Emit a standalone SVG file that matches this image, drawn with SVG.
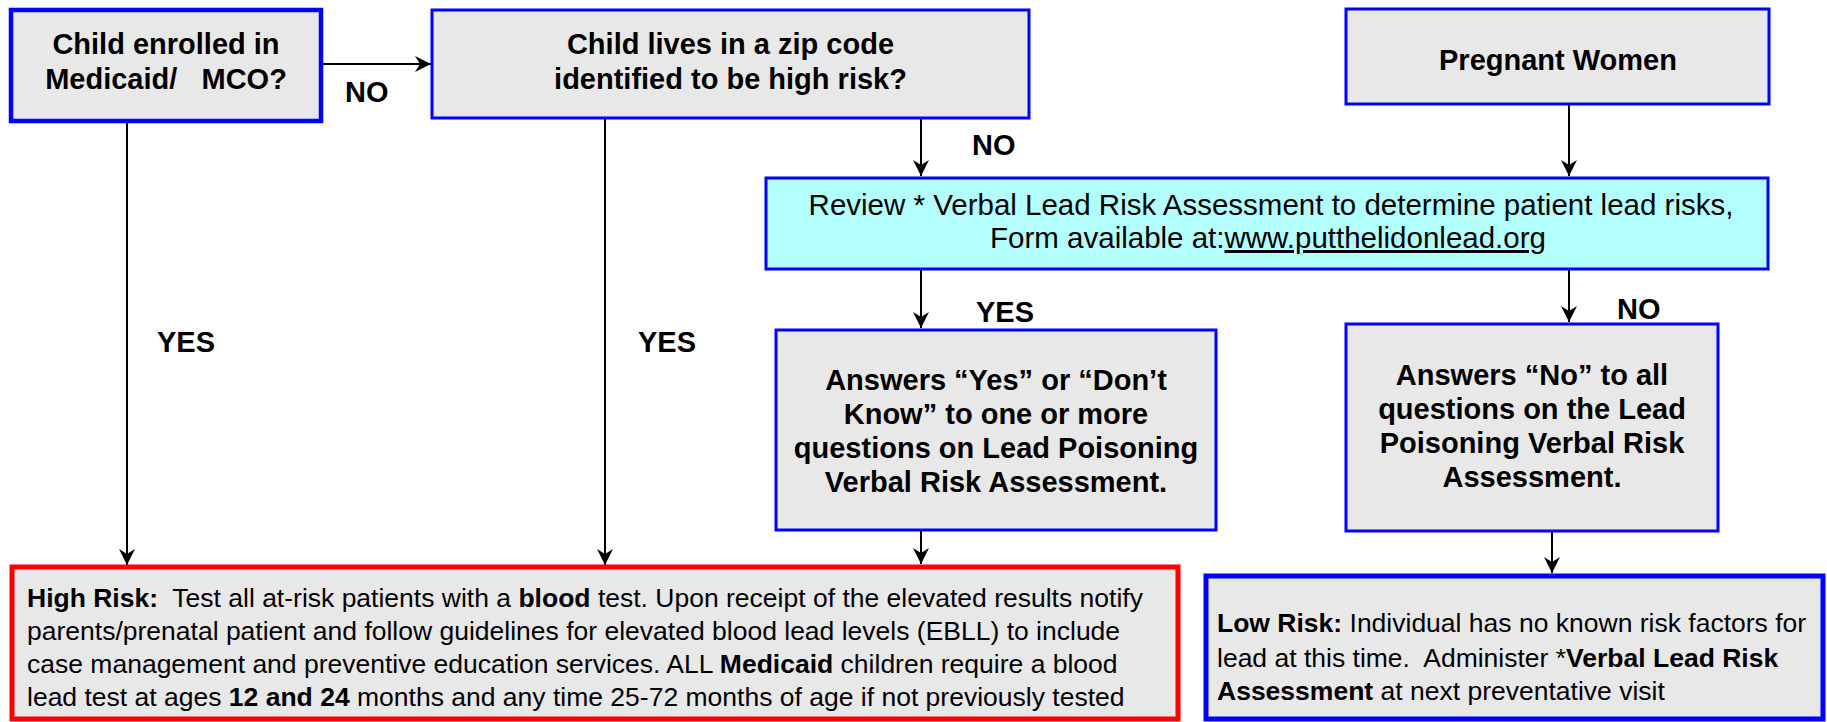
<svg xmlns="http://www.w3.org/2000/svg" width="1827" height="722" viewBox="0 0 1827 722">
<style>
.box{fill:#E8E8E8;stroke:#0000FF;stroke-width:3}
.cyan{fill:#B3FFFF;stroke:#0000FF;stroke-width:3}
.red{fill:#E8E8E8;stroke:#FF0000;stroke-width:5}
.thick{stroke-width:4.5}
.b{font-family:"Liberation Sans",Arial,sans-serif;font-weight:bold;font-size:29px;fill:#000}
.r{font-family:"Liberation Sans",Arial,sans-serif;font-size:29.5px;fill:#000}
.s{font-family:"Liberation Sans",Arial,sans-serif;font-size:26.5px;fill:#000}
.c{text-anchor:middle}
.bt{font-weight:bold}
.edge{stroke:#000;stroke-width:2;fill:none;marker-end:url(#ah)}
</style>
<defs>
<marker id="ah" markerUnits="userSpaceOnUse" markerWidth="18" markerHeight="18" refX="16" refY="8" orient="auto">
<path d="M0,0 L16,8 L0,16 L5,8 z" fill="#000"/>
</marker>
</defs>
<rect width="1827" height="722" fill="#fff"/>

<g id="connectors">
<line class="edge" x1="321" y1="64" x2="431" y2="64"/>
<line class="edge" x1="127" y1="122" x2="127" y2="565"/>
<line class="edge" x1="605" y1="119" x2="605" y2="565"/>
<line class="edge" x1="921" y1="119" x2="921" y2="176"/>
<line class="edge" x1="1569" y1="105" x2="1569" y2="176"/>
<line class="edge" x1="921" y1="270" x2="921" y2="328"/>
<line class="edge" x1="1569" y1="270" x2="1569" y2="322"/>
<line class="edge" x1="921" y1="531" x2="921" y2="564"/>
<line class="edge" x1="1552" y1="532" x2="1552" y2="573"/>
<text class="b" x="345" y="102">NO</text>
<text class="b" x="972" y="155">NO</text>
<text class="b" x="157" y="352">YES</text>
<text class="b" x="638" y="352">YES</text>
<text class="b" x="976" y="322">YES</text>
<text class="b" x="1617" y="319">NO</text>
</g>

<g id="medicaid">
<rect class="box thick" x="11" y="10" width="310" height="111"/>
<text class="b c" x="166" y="53.5">Child enrolled in</text>
<text class="b c" x="166" y="89" style="white-space:pre">Medicaid/   MCO?</text>
</g>

<g id="zipcode">
<rect class="box" x="432" y="10" width="597" height="108"/>
<text class="b c" x="730.5" y="53.5">Child lives in a zip code</text>
<text class="b c" x="730.5" y="89">identified to be high risk?</text>
</g>

<g id="pregnant">
<rect class="box" x="1346" y="9" width="423" height="95"/>
<text class="b c" x="1558" y="70">Pregnant Women</text>
</g>

<g id="review">
<rect class="cyan" x="766" y="178" width="1002" height="91"/>
<text class="r c" x="1271" y="215">Review * Verbal Lead Risk Assessment to determine patient lead risks,</text>
<text class="r c" x="1268" y="248">Form available at:<tspan text-decoration="underline">www.putthelidonlead.org</tspan></text>
</g>

<g id="answers-yes">
<rect class="box" x="776" y="330" width="440" height="200"/>
<text class="b c" x="996" y="389.5">Answers “Yes” or “Don’t</text>
<text class="b c" x="996" y="423.5">Know” to one or more</text>
<text class="b c" x="996" y="457.5">questions on Lead Poisoning</text>
<text class="b c" x="996" y="491.5">Verbal Risk Assessment.</text>
</g>

<g id="answers-no">
<rect class="box" x="1346" y="324" width="372" height="207"/>
<text class="b c" x="1532" y="385">Answers “No” to all</text>
<text class="b c" x="1532" y="419">questions on the Lead</text>
<text class="b c" x="1532" y="453">Poisoning Verbal Risk</text>
<text class="b c" x="1532" y="487">Assessment.</text>
</g>

<g id="high-risk">
<rect class="red" x="12" y="567" width="1166" height="152"/>
<text class="s" x="27" y="607" style="white-space:pre"><tspan class="bt">High Risk:</tspan>  Test all at-risk patients with a <tspan class="bt">blood</tspan> test. Upon receipt of the elevated results notify</text>
<text class="s" x="27" y="640">parents/prenatal patient and follow guidelines for elevated blood lead levels (EBLL) to include</text>
<text class="s" x="27" y="673">case management and preventive education services. ALL <tspan class="bt">Medicaid</tspan> children require a blood</text>
<text class="s" x="27" y="706">lead test at ages <tspan class="bt">12 and 24</tspan> months and any time 25-72 months of age if not previously tested</text>
</g>

<g id="low-risk">
<rect class="box" style="stroke-width:5" x="1206" y="576" width="617" height="143"/>
<text class="s" x="1217" y="632"><tspan class="bt">Low Risk:</tspan> Individual has no known risk factors for</text>
<text class="s" x="1217" y="667" style="white-space:pre">lead at this time.  Administer *<tspan class="bt">Verbal Lead Risk</tspan></text>
<text class="s" x="1217" y="700"><tspan class="bt">Assessment</tspan> at next preventative visit</text>
</g>
</svg>
